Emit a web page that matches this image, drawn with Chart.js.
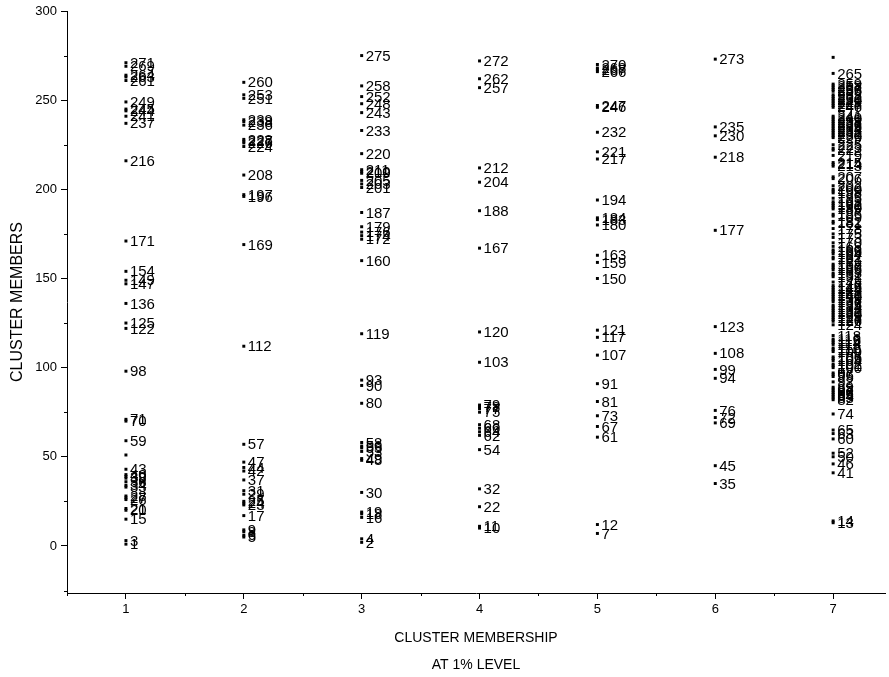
<!DOCTYPE html>
<html>
<head>
<meta charset="utf-8">
<script src="https://cdn.jsdelivr.net/npm/chart.js@4.4.0/dist/chart.umd.min.js"></script>
<style>
  html, body { margin: 0; padding: 0; background: #fff; }
  canvas { display: block; }
</style>
</head>
<body>
<canvas id="clusterChart" width="889" height="677"></canvas>
<script>
// cluster membership at the 1% level: member ids per cluster
const clusters = [1, 2, 3, 4, 5, 6, 7];
const cluster1 = [271, 269, 264, 263, 261, 249, 245, 244, 241, 237, 216, 171, 154, 149, 147, 136, 125, 122, 98,
  71, 70, 59, 51, 43, 40, 39, 38, 36, 34, 33, 28, 27, 26, 21, 20, 15, 3, 1];
const cluster2 = [260, 253, 251, 239, 238, 236, 228, 227, 226, 224, 208, 197, 196, 169, 112,
  57, 47, 44, 42, 37, 31, 29, 25, 24, 23, 17, 9, 8, 6, 5];
const cluster3 = [275, 258, 252, 248, 243, 233, 220, 211, 210, 209, 205, 203, 201, 187, 179, 176, 174, 172, 160,
  119, 93, 90, 80, 58, 56, 55, 53, 49, 48, 30, 19, 18, 16, 4, 2];
const cluster4 = [272, 262, 257, 212, 204, 188, 167, 120, 103, 79, 78, 77, 75, 68, 66, 64, 62, 54, 32, 22, 11, 10];
const cluster5 = [270, 268, 267, 266, 247, 246, 232, 221, 217, 194, 184, 183, 180, 163, 159, 150,
  121, 117, 107, 91, 81, 73, 67, 61, 12, 7];
const cluster6 = [273, 235, 230, 218, 177, 123, 108, 99, 94, 76, 72, 69, 45, 35];
const cluster7 = [274, 265, 259, 258, 257, 256, 255, 253, 252, 251, 250, 249, 248, 247,
  246, 241, 240, 239, 238, 237, 236, 235, 234, 233, 232, 231, 230, 229, 225, 223, 222, 219, 215, 214, 213,
  207, 206, 202, 200, 199, 198, 195, 193, 192, 191, 190, 189, 186, 185, 182, 181, 178, 175, 173, 170, 168,
  166, 165, 164, 162, 161, 158, 157, 156, 155, 153, 152, 151, 148, 146, 145, 144, 143, 142, 141, 140, 139,
  138, 137, 135, 134, 133, 132, 131, 130, 129, 128, 127, 126, 124, 118, 116, 115, 114, 113, 111, 110, 109,
  106, 105, 104, 102, 101, 100, 97, 96, 95, 92, 89, 88, 87, 86, 85, 84, 83, 82,
  74, 65, 63, 60, 52, 50, 46, 41, 14, 13];
const members = [cluster1, cluster2, cluster3, cluster4, cluster5, cluster6, cluster7];
// markers whose number is not printed in the original
const unlabelled = ['1:51', '7:274'];

const xTicks = [1, 2, 3, 4, 5, 6, 7];
const xMinorTicks = [0.5, 1.5, 2.5, 3.5, 4.5, 5.5, 6.5];
const yTicks = [0, 50, 100, 150, 200, 250, 300];
const yMinorTicks = [-25, 25, 75, 125, 175, 225, 275];

const FONT = '"Liberation Sans", Arial, sans-serif';

// prints each member id to the right of its marker
const memberLabels = {
  id: 'memberLabels',
  afterDatasetsDraw(chart) {
    const ctx = chart.ctx;
    ctx.save();
    ctx.font = '15px ' + FONT;
    ctx.fillStyle = '#000';
    ctx.textAlign = 'left';
    ctx.textBaseline = 'middle';
    chart.data.datasets.forEach((ds, i) => {
      chart.getDatasetMeta(i).data.forEach((pt, j) => {
        const raw = ds.data[j];
        if (unlabelled.includes(raw.x + ':' + raw.y)) return;
        ctx.fillText(String(raw.y), pt.x + 4, pt.y + 1);
      });
    });
    ctx.restore();
  }
};

// short minor tick marks between the labelled ones
const minorTicks = {
  id: 'minorTicks',
  afterDraw(chart) {
    const ctx = chart.ctx;
    const {x, y} = chart.scales;
    ctx.save();
    ctx.strokeStyle = '#000';
    ctx.lineWidth = 1;
    ctx.beginPath();
    xMinorTicks.forEach(v => {
      const px = Math.round(x.getPixelForValue(v)) + 0.5;
      ctx.moveTo(px, y.bottom);
      ctx.lineTo(px, y.bottom + 3);
    });
    yMinorTicks.forEach(v => {
      const py = Math.round(y.getPixelForValue(v)) + 0.5;
      ctx.moveTo(x.left, py);
      ctx.lineTo(x.left - 3, py);
    });
    ctx.stroke();
    ctx.restore();
  }
};

const datasets = members.map((ids, i) => ({
  label: 'Cluster ' + clusters[i],
  data: ids.map(id => ({x: clusters[i], y: id})),
  pointStyle: 'rect',
  pointRadius: 2.1,
  pointBorderWidth: 0,
  backgroundColor: '#000',
  borderColor: '#000'
}));

new Chart(document.getElementById('clusterChart'), {
  type: 'scatter',
  data: {datasets},
  options: {
    responsive: false,
    animation: false,
    events: [],
    layout: {padding: {top: 11, right: 0, bottom: 0, left: 0}},
    plugins: {
      legend: {display: false},
      tooltip: {enabled: false}
    },
    scales: {
      x: {
        type: 'linear',
        min: 0.5,
        max: 7.44,
        afterBuildTicks: scale => { scale.ticks = xTicks.map(v => ({value: v})); },
        afterFit: scale => { scale.height = 84; scale.paddingLeft = 0; scale.paddingRight = 0; },
        grid: {display: true, drawOnChartArea: false, drawTicks: true, tickLength: 6, tickColor: '#000'},
        border: {display: true, color: '#000', width: 1},
        ticks: {color: '#000', padding: 3, font: {family: FONT, size: 13}, maxRotation: 0},
        title: {
          display: true,
          text: ['CLUSTER MEMBERSHIP', 'AT 1% LEVEL'],
          color: '#000',
          font: {family: FONT, size: 14, lineHeight: '27px'},
          padding: {top: 0, bottom: -2}
        }
      },
      y: {
        type: 'linear',
        min: -26.4,
        max: 300,
        afterBuildTicks: scale => { scale.ticks = yTicks.map(v => ({value: v})); },
        afterFit: scale => { scale.width = 67; scale.paddingTop = 0; scale.paddingBottom = 0; },
        grid: {display: true, drawOnChartArea: false, drawTicks: true, tickLength: 6, tickColor: '#000'},
        border: {display: true, color: '#000', width: 1},
        ticks: {color: '#000', padding: 4, font: {family: FONT, size: 13}},
        title: {
          display: true,
          text: 'CLUSTER MEMBERS',
          color: '#000',
          font: {family: FONT, size: 16},
          padding: {top: 8, bottom: 0}
        }
      }
    }
  },
  plugins: [memberLabels, minorTicks]
});
</script>
</body>
</html>
